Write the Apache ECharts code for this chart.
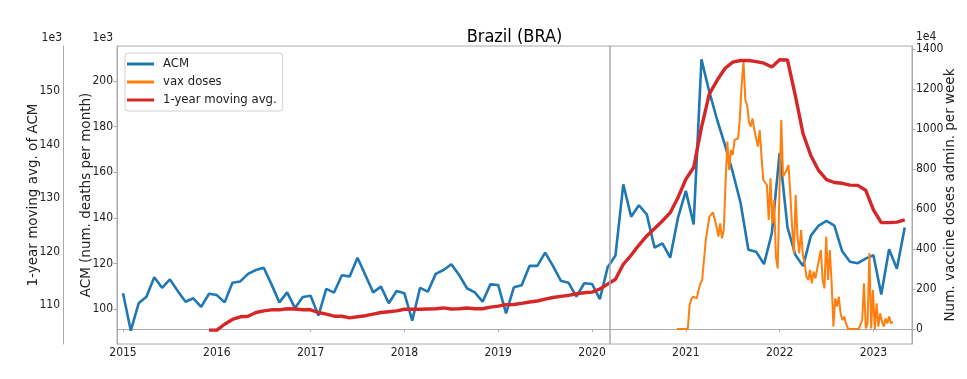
<!DOCTYPE html>
<html>
<head>
<meta charset="utf-8">
<script src="https://cdn.jsdelivr.net/npm/echarts@6/dist/echarts.min.js"></script>
<style>
html,body{margin:0;padding:0;background:#fff;}
#c{width:967px;height:379px;}
</style>
</head>
<body>
<div id="c"></div>
<script>
// ---- data ----
const yearTicks = [2015, 2016, 2017, 2018, 2019, 2020, 2021, 2022, 2023];
const acmTicks = [100, 120, 140, 160, 180, 200];
const maTicks = [110, 120, 130, 140, 150];
const vaxTicks = [0, 200, 400, 600, 800, 1000, 1200, 1400];

const acmStart = 2015.0; // monthly, Jan 2015
const acm = [
  106.9, 90.5, 102.5, 105.4, 113.9, 109.3, 113.0, 107.9, 103.2, 104.7, 100.9, 106.7,
  106.1, 102.9, 111.5, 112.1, 115.4, 117.1, 118.1, 110.8, 102.9, 107.3, 100.4, 105.3,
  105.8, 97.1, 108.8, 107.2, 114.8, 114.3, 122.5, 114.9, 107.3, 109.8, 102.5, 107.9,
  106.9, 94.9, 109.3, 107.6, 115.4, 117.1, 119.6, 114.9, 109.1, 107.3, 103.2, 110.8,
  110.5, 98.1, 109.5, 110.4, 118.9, 118.9, 124.7, 118.9, 112.4, 111.5, 105.4, 111.3,
  111.0, 104.3, 118.3, 123.5, 154.7, 140.5, 145.5, 141.5, 126.9, 128.8, 122.5, 140.1,
  151.8, 137.1, 209.5, 195.3, 183.0, 172.0, 160.0, 146.6, 126.0, 125.1, 119.7, 133.2,
  168.5, 135.9, 123.8, 118.8, 132.2, 136.6, 138.6, 136.6, 125.3, 120.7, 120.1, 122.1,
  123.6, 106.4, 126.2, 117.7, 135.7
];

const maStart = 2015 + 11 / 12; // Dec 2015
const movingAvg = [
  105.3,
  105.3, 106.4, 107.3, 107.8, 107.9, 108.6, 108.9, 109.1, 109.1, 109.3, 109.25, 109.1,
  109.1, 108.6, 108.3, 107.9, 107.9, 107.6, 107.8, 108.0, 108.3, 108.6, 108.75, 108.9,
  109.2, 109.2, 109.2, 109.25, 109.3, 109.45, 109.25, 109.3, 109.45, 109.3, 109.3, 109.6,
  109.8, 110.06, 110.1, 110.3, 110.56, 110.75, 111.1, 111.4, 111.6, 111.8, 112.1, 112.3,
  112.4, 113.0, 113.9, 114.8, 117.6, 119.3, 121.2, 122.9, 124.3, 125.7, 127.25, 130.1,
  133.5, 135.7, 143.2, 149.4, 152.0, 154.2, 155.4, 155.7, 155.7, 155.5, 155.2, 154.5,
  155.85, 155.8, 149.2, 142.0, 137.9, 135.1, 133.45, 132.9, 132.75, 132.4, 132.35, 131.45,
  127.8, 125.4, 125.4, 125.5, 125.9
];

const vaxStart = 2020.906; // weekly
const vax = [
  0, 0, 0, 0, 0, 0, 0, 120, 150, 162, 170, 153, 195, 228, 245, 245, 445, 453, 562, 562,
  583, 575, 512, 462, 528, 453, 495, 728, 937, 795, 895, 870, 945, 945, 953, 1062, 1228, 1337, 1145, 1120,
  1037, 1012, 1053, 995, 987, 912, 995, 862, 745, 737, 720, 545, 753, 528, 645, 362, 303, 695, 1045, 762,
  753, 795, 820, 678, 512, 378, 670, 462, 378, 495, 370, 328, 262, 245, 295, 228, 287, 253, 303, 295,
  395, 245, 203, 462, 245, 395, 228, 12, 153, 112, 162, 78, 45, 62, 28, 3, 0, 0, 0, 0,
  0, 0, 20, 45, 228, 3, 28, 380, 3, 195, 0, 128, 12, 78, 37, 12, 53, 28, 62, 28, 37
];

const pandemicDate = 2020.19;

// ---- build ----
const acmData = acm.map((v, i) => [acmStart + i / 12, v]);
const maData = movingAvg.map((v, i) => [maStart + i / 12, v]);
const vaxData = vax.map((v, i) => [vaxStart + i * 7 / 365.25, v]);

const FC = "'DejaVu Sans Condensed', 'DejaVu Sans', sans-serif";
const FN = "'DejaVu Sans', sans-serif";
const axisGray = '#aaaaaa';
const txt = '#222222';
const plain = v => String(Math.round(v));

const chart = echarts.init(document.getElementById('c'), null, {renderer: 'canvas'});
chart.setOption({
  animation: false,
  backgroundColor: '#ffffff',
  grid: {left: 117, right: 55, top: 46, bottom: 35, show: true, borderColor: axisGray, borderWidth: 1,
         containLabel: false, outerBoundsMode: 'none'},
  legend: {
    orient: 'vertical', left: 125, top: 53,
    data: ['ACM', 'vax doses', '1-year moving avg.'],
    icon: 'rect', itemWidth: 27, itemHeight: 3, itemGap: 4,
    padding: [4, 6, 4, 2],
    borderColor: '#d0d0d0', borderWidth: 1, borderRadius: 3, backgroundColor: '#ffffff',
    textStyle: {fontFamily: FC, fontSize: 13, color: txt, padding: [0, 0, 0, 4], lineHeight: 14}
  },
  xAxis: {
    type: 'value', min: 2014.936, max: 2023.411,
    axisLine: {show: true, lineStyle: {color: axisGray}},
    axisTick: {show: true, length: 3, lineStyle: {color: axisGray}, customValues: yearTicks},
    axisLabel: {fontFamily: FC, fontSize: 12, color: txt, margin: 3, customValues: yearTicks, formatter: plain},
    splitLine: {show: false}
  },
  yAxis: [
    {
      type: 'value', position: 'left', min: 84.65, max: 215.35,
      name: 'ACM (num. deaths per month)', nameLocation: 'middle', nameRotate: 90, nameGap: 24, nameMoveOverlap: false,
      nameTextStyle: {fontFamily: FN, fontSize: 13.5, color: txt},
      axisLine: {show: true, lineStyle: {color: axisGray}},
      axisTick: {show: true, length: 3.5, lineStyle: {color: axisGray}, customValues: acmTicks},
      axisLabel: {fontFamily: FC, fontSize: 12, color: txt, margin: 4, customValues: acmTicks, formatter: plain},
      splitLine: {show: false}
    },
    {
      type: 'value', position: 'right', min: -75, max: 1415,
      name: 'Num. vaccine doses admin. per week', nameLocation: 'middle', nameRotate: 90, nameGap: 31, nameMoveOverlap: false,
      nameTextStyle: {fontFamily: FN, fontSize: 13.5, color: txt},
      axisLine: {show: true, lineStyle: {color: axisGray}},
      axisTick: {show: true, length: 3.5, lineStyle: {color: axisGray}, customValues: vaxTicks},
      axisLabel: {fontFamily: FC, fontSize: 12, color: txt, margin: 4, customValues: vaxTicks, formatter: plain},
      splitLine: {show: false}
    },
    {
      type: 'value', position: 'left', offset: 54, min: 102.71, max: 158.41,
      name: '1-year moving avg. of ACM', nameLocation: 'middle', nameRotate: 90, nameGap: 23, nameMoveOverlap: false,
      nameTextStyle: {fontFamily: FN, fontSize: 13.5, color: txt},
      axisLine: {show: true, lineStyle: {color: axisGray}},
      axisTick: {show: false, customValues: maTicks},
      axisLabel: {fontFamily: FC, fontSize: 12, color: txt, margin: 3, customValues: maTicks, formatter: plain},
      splitLine: {show: false}
    }
  ],
  graphic: [
    {type: 'text', x: 514.5, y: 37, style: {text: 'Brazil (BRA)', font: "18px 'DejaVu Sans Condensed', 'DejaVu Sans'", fill: '#000', align: 'center', verticalAlign: 'middle'}},
    {type: 'text', x: 62, y: 38, style: {text: '1e3', font: "12px 'DejaVu Sans Condensed', 'DejaVu Sans'", fill: txt, align: 'right', verticalAlign: 'middle'}},
    {type: 'text', x: 113, y: 38, style: {text: '1e3', font: "12px 'DejaVu Sans Condensed', 'DejaVu Sans'", fill: txt, align: 'right', verticalAlign: 'middle'}},
    {type: 'text', x: 916, y: 37, style: {text: '1e4', font: "12px 'DejaVu Sans Condensed', 'DejaVu Sans'", fill: txt, align: 'left', verticalAlign: 'middle'}}
  ],
  series: [
    {
      name: 'ACM', type: 'line', xAxisIndex: 0, yAxisIndex: 0, data: acmData,
      showSymbol: false, symbol: 'none', lineStyle: {color: '#1f77b4', width: 2.6}, itemStyle: {color: '#1f77b4'}, z: 2,
      markLine: {
        silent: true, symbol: ['none', 'none'], label: {show: false},
        lineStyle: {color: '#a8a8a8', width: 1.5, type: 'solid'},
        data: [{xAxis: pandemicDate}]
      }
    },
    {
      name: 'vax doses', type: 'line', xAxisIndex: 0, yAxisIndex: 1, data: vaxData,
      showSymbol: false, symbol: 'none', lineStyle: {color: '#ff7f0e', width: 2}, itemStyle: {color: '#ff7f0e'}, z: 3
    },
    {
      name: '1-year moving avg.', type: 'line', xAxisIndex: 0, yAxisIndex: 2, data: maData,
      showSymbol: false, symbol: 'none', lineStyle: {color: '#d62728', width: 3.4}, itemStyle: {color: '#d62728'}, z: 4
    }
  ]
});
</script>
</body>
</html>
